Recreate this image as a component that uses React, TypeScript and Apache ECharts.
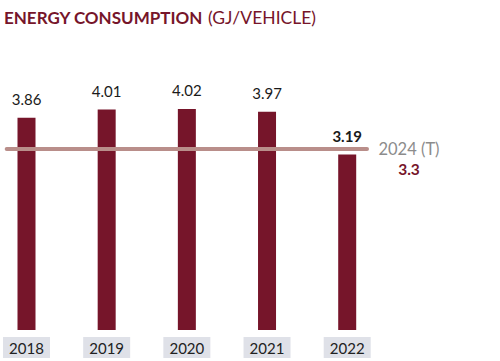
import React, { useEffect, useRef } from "react";
import * as echarts from "echarts";

const years = ["2018", "2019", "2020", "2021", "2022"];
const values = [3.86, 4.01, 4.02, 3.97, 3.19];
const target = 3.3;
const targetLabel = "2024 (T)";

const FONT = "Lato, 'Open Sans', sans-serif";
const MAROON = "#76152a";

export default function App() {
  const ref = useRef<HTMLDivElement>(null);
  useEffect(() => {
    const chart = echarts.init(ref.current!, null, { renderer: "svg" });
    chart.setOption({
      animation: false,
      title: {
        left: -1,
        top: 3,
        text: "{a|ENERGY CONSUMPTION} {b|(GJ/VEHICLE)}",
        textStyle: {
          rich: {
            a: { fontFamily: FONT, fontSize: 17, fontWeight: "bold", color: MAROON },
            b: { fontFamily: FONT, fontSize: 17.5, fontWeight: "normal", color: MAROON },
          },
        },
      },
      grid: { left: 3, right: 133, top: 55, bottom: 31 },
      xAxis: {
        type: "value",
        min: -20 / 81,
        max: 4 + 20 / 81,
        splitLine: { show: false },
        axisLine: { show: false },
        axisTick: { show: false },
        axisLabel: {
          customValues: [0, 1, 2, 3, 4],
          formatter: (v: number) => years[Math.round(v)],
          margin: 7,
          fontFamily: FONT,
          fontSize: 15,
          color: "#222",
          backgroundColor: "#dfe1e8",
          width: 47,
          align: "center",
          lineHeight: 16,
          padding: [3, 0, 2, 0],
        },
      },
      yAxis: { type: "value", min: 0, max: 5, show: false },
      series: [
        {
          type: "bar",
          barWidth: 18,
          data: values.map((v, i) => ({
            value: [i, v],
            label: i === values.length - 1 ? { fontWeight: "bold" } : undefined,
          })),
          itemStyle: { color: MAROON },
          label: {
            show: true,
            position: "top",
            distance: 11,
            fontFamily: FONT,
            fontSize: 15,
            color: "#1a1a1a",
            formatter: (p: any) => p.value[1].toFixed(2),
          },
          markLine: {
            silent: true,
            symbol: "none",
            lineStyle: { color: "#b98e8a", width: 4, type: "solid", cap: "round" },
            label: {
              show: true,
              position: "end",
              distance: 10,
              padding: [20, 0, 0, 0],
              formatter: "{a|" + targetLabel + "}\n{b|" + target + "}",
              rich: {
                a: { fontFamily: FONT, fontSize: 16.5, color: "#8c8c8c", width: 64, align: "center", lineHeight: 20 },
                b: { fontFamily: FONT, fontSize: 15.5, fontWeight: "bold", color: MAROON, width: 64, align: "center", lineHeight: 20 },
              },
            },
            data: [{ yAxis: target }],
          },
        },
      ],
    });
    return () => chart.dispose();
  }, []);
  return <div ref={ref} style={{ width: 500, height: 361, position: "absolute", left: 0, top: 0 }} />;
}
